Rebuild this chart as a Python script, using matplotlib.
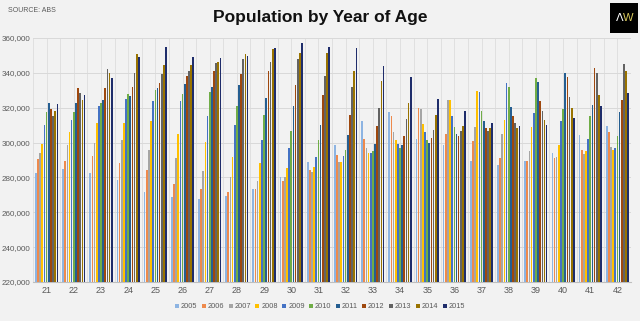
import matplotlib
matplotlib.use("Agg")
import matplotlib.pyplot as plt
import numpy as np
from matplotlib.patches import Rectangle

ages = [str(a) for a in range(21, 43)]
years = ["2005", "2006", "2007", "2008", "2009", "2010", "2011", "2012", "2013", "2014", "2015"]

# values in thousands, per age group (2005..2015)
v21 = [282.5, 290.3, 294.3, 298.9, 309.8, 317.4, 322.9, 319.3, 315.5, 318.2, 322.4]
v22 = [285.1, 289.5, 298.7, 305.8, 313.0, 317.4, 322.9, 331.2, 328.5, 324.7, 327.3]
v23 = [282.5, 292.4, 299.5, 311.5, 321.2, 322.6, 324.5, 331.5, 342.0, 340.1, 337.1]
v24 = [278.6, 288.2, 301.2, 311.5, 325.0, 327.9, 327.0, 332.1, 339.8, 350.6, 348.9]
v25 = [271.4, 284.0, 295.8, 312.4, 323.7, 330.4, 331.4, 334.0, 339.6, 344.7, 355.0]
v26 = [268.5, 276.5, 291.2, 305.0, 323.7, 328.1, 333.8, 338.2, 341.3, 344.7, 349.3]
v27 = [267.8, 273.5, 283.6, 300.6, 315.5, 328.9, 332.1, 341.3, 345.7, 346.4, 348.5]
v28 = [269.3, 271.6, 280.2, 292.0, 310.3, 321.0, 333.3, 339.6, 348.2, 350.8, 349.7]
v29 = [273.5, 273.5, 277.9, 288.4, 301.2, 316.1, 325.6, 341.1, 346.4, 353.7, 354.5]
v30 = [280.2, 277.9, 280.2, 285.3, 296.6, 306.5, 321.2, 333.3, 348.2, 351.4, 357.0]
v31 = [289.0, 284.4, 283.4, 286.1, 292.0, 301.2, 310.3, 327.5, 338.4, 351.4, 354.8]
v32 = [298.7, 292.8, 288.6, 289.0, 292.4, 295.6, 304.6, 315.7, 331.9, 341.1, 354.5]
v33 = [312.4, 301.9, 296.8, 294.1, 294.3, 295.4, 298.9, 309.4, 320.1, 335.4, 344.2]
v34 = [317.8, 315.3, 306.0, 301.6, 298.9, 296.8, 298.7, 303.5, 313.8, 322.9, 337.8]
v35 = [301.9, 320.1, 319.5, 310.7, 306.3, 301.7, 299.6, 302.9, 307.1, 316.1, 324.9]
v36 = [298.7, 305.0, 324.7, 324.7, 315.3, 309.2, 304.8, 303.5, 306.5, 309.4, 318.0]
v37 = [289.5, 300.8, 309.2, 329.6, 328.9, 318.2, 312.1, 308.4, 306.9, 308.1, 311.3]
v38 = [286.9, 291.4, 305.0, 313.2, 334.2, 331.9, 320.5, 315.1, 311.5, 308.4, 309.6]
v39 = [289.3, 289.2, 294.9, 309.0, 317.2, 337.3, 335.0, 323.7, 318.2, 313.0, 310.0]
v40 = [293.9, 291.2, 291.6, 298.7, 312.6, 319.3, 340.1, 337.5, 326.0, 320.1, 314.2]
v41 = [304.6, 295.8, 293.5, 294.9, 301.9, 315.3, 321.6, 343.0, 340.1, 327.5, 321.0]
v42 = [309.4, 306.1, 297.5, 295.6, 296.8, 303.8, 317.8, 324.7, 345.3, 341.3, 328.3]

groups = [v21, v22, v23, v24, v25, v26, v27, v28, v29, v30, v31,
          v32, v33, v34, v35, v36, v37, v38, v39, v40, v41, v42]

colors = ["#8DB4E2", "#EE8A4C", "#A5A5A5", "#FFC000", "#4472C4", "#70AD47",
          "#255E91", "#9E480E", "#636363", "#997300", "#1F2D6B"]

bg = "#F2F2F2"
fig = plt.figure(figsize=(6.4, 3.21), dpi=100, facecolor=bg)
ax = fig.add_axes([0.0516, 0.1215, 0.9344, 0.7601], facecolor=bg)

narrow = ["Liberation Sans Narrow", "Liberation Sans", "DejaVu Sans"]

data = np.array(groups) * 1000.0
n_years = len(years)
x = np.arange(len(ages))
step = 0.079
width = 0.062
for i, yr in enumerate(years):
    offs = (i - (n_years - 1) / 2) * step
    ax.bar(x + offs, data[:, i] - 220000, bottom=220000, width=width,
           color=colors[i], label=yr, zorder=3, linewidth=0)

ax.set_ylim(220000, 360000)
ax.set_xlim(-0.5, len(ages) - 0.5)
ax.set_yticks(np.arange(220000, 360001, 20000))
ax.set_yticklabels([f"{int(v):,}" for v in np.arange(220000, 360001, 20000)],
                   fontsize=5.8, color="#595959", family=narrow)
ax.set_xticks(x)
ax.set_xticklabels(ages, fontsize=6.5, color="#595959", family=narrow)
ax.set_xticks(np.arange(-0.5, len(ages), 1.0), minor=True)
ax.tick_params(axis="both", which="both", length=0, pad=3)
ax.tick_params(axis="y", pad=2)
ax.grid(True, which="major", axis="y", color="#D9D9D9", linewidth=0.7, zorder=0)
ax.grid(True, which="both", axis="x", color="#DDDDDD", linewidth=0.6, zorder=0)
for s in ["top", "right", "left"]:
    ax.spines[s].set_visible(False)
ax.spines["bottom"].set_color("#BFBFBF")
ax.spines["bottom"].set_linewidth(0.8)

leg = fig.legend(loc="center", bbox_to_anchor=(0.5, 0.044), ncol=11, frameon=False,
                 handlelength=0.55, handleheight=0.55, handletextpad=0.25,
                 columnspacing=0.6, prop={"family": narrow, "size": 5.3})
for t in leg.get_texts():
    t.set_color("#595959")

fig.text(0.5, 0.945, "Population by Year of Age", ha="center", va="center",
         fontsize=12.5, fontweight="bold", color="#111111",
         family=["Liberation Sans", "DejaVu Sans"])
fig.text(0.012, 0.968, "SOURCE: ABS", ha="left", va="center", fontsize=5,
         color="#595959", family=narrow)

# logo
fig.patches.append(Rectangle((0.953, 0.897), 0.044, 0.094, transform=fig.transFigure,
                             facecolor="black", edgecolor="none", zorder=5))
fig.text(0.968, 0.944, "Λ", ha="center", va="center", fontsize=8, color="white", zorder=6,
         family=["DejaVu Sans"])
fig.text(0.982, 0.944, "W", ha="center", va="center", fontsize=8, color="#D8C85A", zorder=6,
         family=narrow)

fig.savefig("out.png", dpi=100, facecolor=bg)
